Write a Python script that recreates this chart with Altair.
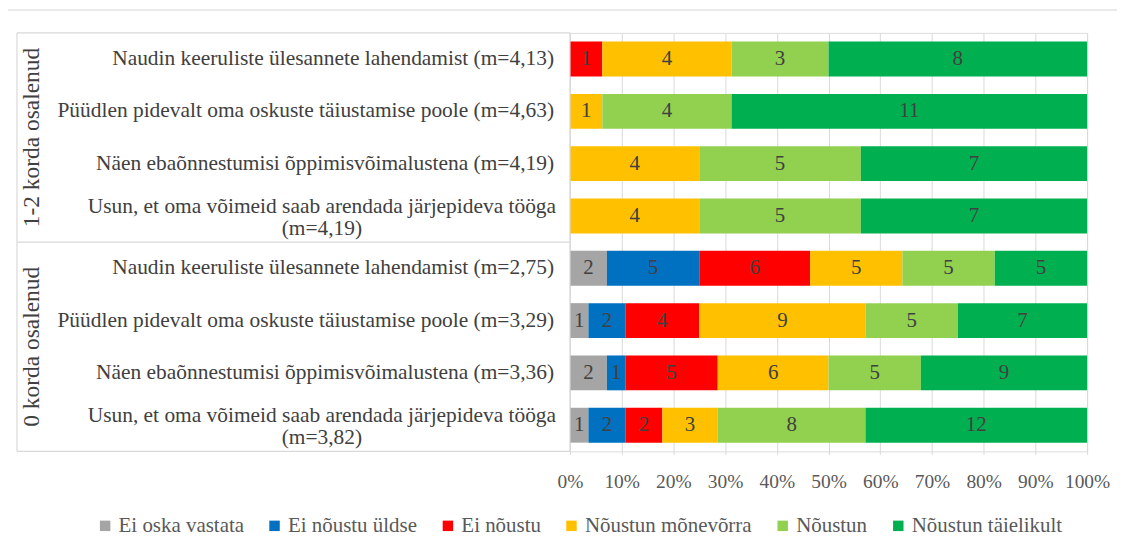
import altair as alt
import pandas as pd

# ---------------- data ----------------
groups = ["1-2 korda osalenud", "0 korda osalenud"]
group_start = [0, 4]
group_size = [4, 4]

statements = [
    "Naudin keeruliste ülesannete lahendamist (m=4,13)",
    "Püüdlen pidevalt oma oskuste täiustamise poole (m=4,63)",
    "Näen ebaõnnestumisi õppimisvõimalustena (m=4,19)",
    "Usun, et oma võimeid saab arendada järjepideva tööga\n(m=4,19)",
    "Naudin keeruliste ülesannete lahendamist (m=2,75)",
    "Püüdlen pidevalt oma oskuste täiustamise poole (m=3,29)",
    "Näen ebaõnnestumisi õppimisvõimalustena (m=3,36)",
    "Usun, et oma võimeid saab arendada järjepideva tööga\n(m=3,82)",
]

responses = ["Ei oska vastata", "Ei nõustu üldse", "Ei nõustu",
             "Nõustun mõnevõrra", "Nõustun", "Nõustun täielikult"]
colors = ["#A5A5A5", "#0070C0", "#FF0000", "#FFC000", "#92D050", "#00B050"]

ei_oska_vastata = [0, 0, 0, 0, 2, 1, 2, 1]
ei_noustu_uldse = [0, 0, 0, 0, 5, 2, 1, 2]
ei_noustu = [1, 0, 0, 0, 6, 4, 5, 2]
noustun_monevorra = [4, 1, 4, 4, 5, 9, 6, 3]
noustun = [3, 4, 5, 5, 5, 5, 5, 8]
noustun_taielikult = [8, 11, 7, 7, 5, 7, 9, 12]

series = [ei_oska_vastata, ei_noustu_uldse, ei_noustu,
          noustun_monevorra, noustun, noustun_taielikult]

x_ticks = [0, 0.1, 0.2, 0.3, 0.4, 0.5, 0.6, 0.7, 0.8, 0.9, 1.0]

# ---------------- tables ----------------
rows = []
for k, (resp, vals) in enumerate(zip(responses, series)):
    for i, v in enumerate(vals):
        rows.append({"row": i, "response": resp, "order": k, "count": v})
df = pd.DataFrame(rows)

labels_df = pd.DataFrame({"row": list(range(len(statements))), "label": statements})
groups_df = pd.DataFrame({"group": groups, "start": group_start, "size": group_size})
bounds_df = pd.DataFrame({"pos": group_start + [group_start[-1] + group_size[-1]]})
one_df = pd.DataFrame({"a": [0]})

SERIF = "Liberation Serif"
GRID = "#d9d9d9"
TXT = "#404040"
FS = 21

yscale = alt.Scale(domain=[0, 8], reverse=True, nice=False, zero=False)
xscale = alt.Scale(domain=[0, 1], nice=False)
xaxis = alt.Axis(
    format="%", values=x_ticks, grid=True, gridColor=GRID, gridWidth=1,
    domain=False, ticks=True, tickColor=GRID, tickSize=3,
    labelFont=SERIF, labelFontSize=19.5, labelColor="#595959",
    labelPadding=18, labelOverlap=False, labelBound=False, labelFlush=False,
    title=None,
)

base = (
    alt.Chart(df)
    .transform_filter("datum.count > 0")
    .transform_stack(
        stack="count", groupby=["row"], as_=["x0", "x1"], offset="normalize",
        sort=[alt.SortField("order", order="ascending")],
    )
    .transform_calculate(
        yt="datum.row + 0.1667",
        yb="datum.row + 0.8333",
        yc="datum.row + 0.5",
        xm="(datum.x0 + datum.x1) / 2",
    )
)

bars = base.mark_bar().encode(
    x=alt.X("x0:Q", scale=xscale, axis=xaxis),
    x2="x1:Q",
    y=alt.Y("yt:Q", scale=yscale, axis=None),
    y2="yb:Q",
    color=alt.Color(
        "response:N",
        scale=alt.Scale(domain=responses, range=colors),
        legend=alt.Legend(
            title=None, orient="none", direction="horizontal",
            legendX=-477, legendY=484, symbolType="square", symbolSize=110,
            symbolStrokeWidth=0, labelFont=SERIF, labelFontSize=FS,
            labelColor="#595959", columnPadding=20, labelOffset=3, padding=0,
            labelLimit=400,
        ),
    ),
)

seg_text = base.mark_text(font=SERIF, fontSize=FS, color=TXT, baseline="middle").encode(
    x=alt.X("xm:Q", scale=xscale, axis=xaxis),
    y=alt.Y("yc:Q", scale=yscale, axis=None),
    text="count:Q",
)

lab_base = alt.Chart(labels_df).transform_calculate(yc="datum.row + 0.5")
lab_single = lab_base.transform_filter("indexof(datum.label, '\\n') < 0").mark_text(
    font=SERIF, fontSize=21.5, color=TXT, align="right", baseline="middle"
).encode(
    x=alt.value(-16),
    y=alt.Y("yc:Q", scale=yscale, axis=None),
    text="label:N",
)
lab_double = lab_base.transform_filter("indexof(datum.label, '\\n') >= 0").mark_text(
    font=SERIF, fontSize=21.5, color=TXT, align="center", baseline="middle",
    lineBreak="\n", lineHeight=22, dy=-9,
).encode(
    x=alt.value(-249),
    y=alt.Y("yc:Q", scale=yscale, axis=None),
    text="label:N",
)

grp_text = alt.Chart(groups_df).transform_calculate(
    yc="datum.start + datum.size / 2"
).mark_text(
    font=SERIF, fontSize=23.5, color=TXT, angle=270, align="center", baseline="middle"
).encode(
    x=alt.value(-540),
    y=alt.Y("yc:Q", scale=yscale, axis=None),
    text="group:N",
)

frame_h = alt.Chart(bounds_df).mark_rule(color=GRID, strokeWidth=1.2).encode(
    x=alt.value(-555), x2=alt.value(0),
    y=alt.Y("pos:Q", scale=yscale, axis=None),
)
frame_left = alt.Chart(bounds_df).mark_rule(color=GRID, strokeWidth=1.2).encode(
    x=alt.value(-555),
    y=alt.Y("min(pos):Q", scale=yscale, axis=None),
    y2="max(pos):Q",
)
frame_right = alt.Chart(bounds_df).mark_rule(color=GRID, strokeWidth=1.2).encode(
    x=alt.value(0),
    y=alt.Y("min(pos):Q", scale=yscale, axis=None),
    y2="max(pos):Q",
)

outer_top = alt.Chart(one_df).mark_rule(color="#e3e3e3", strokeWidth=1.5).encode(
    x=alt.value(-566), x2=alt.value(560), y=alt.value(-23)
)
outer_left = alt.Chart(one_df).mark_rule(color="#e3e3e3", strokeWidth=1.5).encode(
    x=alt.value(-566), y=alt.value(-23), y2=alt.value(530)
)

chart = alt.layer(
    outer_top, outer_left, bars, frame_h, frame_left, frame_right,
    seg_text, lab_single, lab_double, grp_text,
).properties(
    width=519, height=420,
    padding={"left": 564, "top": 24, "right": 30, "bottom": 90},
    autosize=alt.AutoSizeParams(type="none"),
).configure_view(stroke=None).configure(background="white")

chart.save("out.html", embed_options={"renderer": "svg", "actions": False})
